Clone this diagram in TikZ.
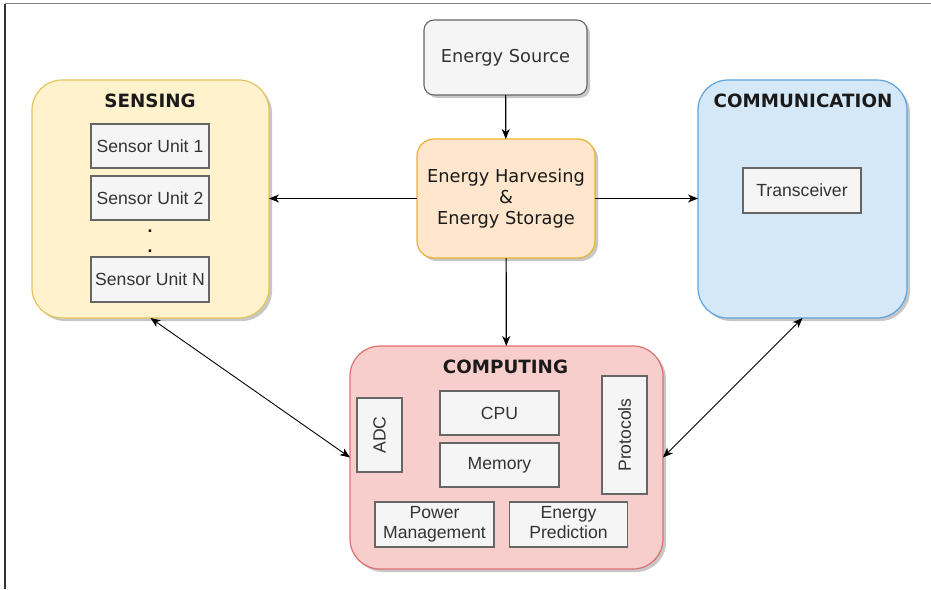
\documentclass[tikz,border=0pt]{standalone}
\usepackage{fontspec}
\setmainfont{Liberation Sans}
\newfontfamily\vfont{DejaVu Sans}
\usetikzlibrary{arrows.meta,shadows}
\definecolor{boxfill}{HTML}{F5F5F5}
\definecolor{boxline}{HTML}{666666}
\definecolor{boxtext}{HTML}{333333}
\definecolor{darktext}{HTML}{1A1A1A}
\definecolor{senfill}{HTML}{FFF2CC}
\definecolor{senline}{HTML}{E6C35C}
\definecolor{ehfill}{HTML}{FFE6CC}
\definecolor{ehline}{HTML}{EBB331}
\definecolor{comfill}{HTML}{D5E8F7}
\definecolor{comline}{HTML}{5FA2DD}
\definecolor{cpfill}{HTML}{F8CECC}
\definecolor{cpline}{HTML}{DE6F6F}
\begin{document}
\begin{tikzpicture}[x=1pt,y=-1pt,
  every node/.style={inner sep=0pt,outer sep=0pt},
  shad/.style={drop shadow={shadow xshift=3pt,shadow yshift=-3pt,opacity=0.22,fill=black}},
  groupbox/.style={draw,rounded corners=30pt,line width=1.2pt,shad},
  unit/.style={draw=boxline,fill=boxfill,line width=1.1pt,text=boxtext,
    font=\fontsize{17.6}{19.5}\selectfont,align=center},
  title/.style={font=\vfont\bfseries\fontsize{18.3}{20}\selectfont,text=darktext},
  conn/.style={line width=1.2pt,draw=black,-{Stealth[length=10pt,width=8pt,inset=3pt]}},
  biconn/.style={line width=0.9pt,draw=black,{Stealth[length=10pt,width=8pt,inset=3pt]}-{Stealth[length=10pt,width=8pt,inset=3pt]}}
]
\useasboundingbox (0,0) rectangle (931,589);
\fill[white] (0,0) rectangle (931,589);
% frame lines
\draw[line width=1.2pt,draw=black!50] (5,3.5) -- (931,3.5);
\draw[line width=1.2pt,draw=black!80] (5,3.5) -- (5,589);

% groups
\node[groupbox,fill=senfill,draw=senline,minimum width=237pt,minimum height=238pt] (sensing) at (150.5,199) {};
\node[groupbox,fill=comfill,draw=comline,minimum width=209pt,minimum height=238pt] (comm) at (802.5,199) {};
\node[groupbox,fill=cpfill,draw=cpline,minimum width=313pt,minimum height=223pt] (comp) at (506.5,457.5) {};

\node[title] (sentitle) at (150,101) {SENSING};
\node[title] (comtitle) at (803,101) {COMMUNICATION};
\node[title] (cptitle) at (505.5,367) {COMPUTING};

% energy
\node[draw=boxline,fill=boxfill,line width=1.1pt,rounded corners=10pt,shad,
  minimum width=163pt,minimum height=75pt,text=boxtext,
  font=\vfont\fontsize{17.8}{20}\selectfont] (es) at (505.5,57.5) {Energy Source};
\node[draw=ehline,fill=ehfill,line width=1.2pt,rounded corners=17pt,shad,
  minimum width=178pt,minimum height=119pt,text=darktext,align=center,
  font=\vfont\fontsize{17.8}{21}\selectfont] (eh) at (506,198.5) {Energy Harvesing\\\&\\Energy Storage};

% sensing units
\node[unit,minimum width=118pt,minimum height=44pt] (su1) at (150,146) {Sensor Unit 1};
\node[unit,minimum width=118pt,minimum height=44pt] (su2) at (150,198) {Sensor Unit 2};
\node[text=darktext,font=\fontsize{17.6}{20}\bfseries\selectfont,anchor=base] (dota) at (150,232) {.};
\node[text=darktext,font=\fontsize{17.6}{20}\bfseries\selectfont,anchor=base] (dotb) at (150,252) {.};
\node[unit,minimum width=118pt,minimum height=45pt] (sun) at (150,279.5) {Sensor Unit N};

% comm
\node[unit,minimum width=118pt,minimum height=45pt] (trans) at (802,190.5) {Transceiver};

% computing
\node[unit,minimum width=74pt,minimum height=45pt,rotate=90] (adc) at (379.5,435) {ADC};
\node[unit,minimum width=119pt,minimum height=44pt] (cpu) at (499.5,413) {CPU};
\node[unit,minimum width=119pt,minimum height=44pt] (mem) at (499.5,465) {Memory};
\node[unit,minimum width=118pt,minimum height=45pt,rotate=90] (prot) at (624.5,435) {Protocols};
\node[unit,minimum width=119pt,minimum height=45pt] (pm) at (434.5,524.5) {Power\strut\\Management\strut};
\node[unit,minimum width=118pt,minimum height=45pt] (ep) at (568.5,524.5) {Energy\strut\\Prediction\strut};

% connectors
\draw[conn] (es) -- (eh);
\draw[conn] (eh.west) -- (eh.west -| sensing.east);
\draw[conn] (eh.east) -- (eh.east -| comm.west);
\draw[conn] (eh) -- (comp);
\draw[biconn] (sensing.south) -- (comp.west);
\draw[biconn] (comm.south) -- (comp.east);
\end{tikzpicture}
\end{document}
